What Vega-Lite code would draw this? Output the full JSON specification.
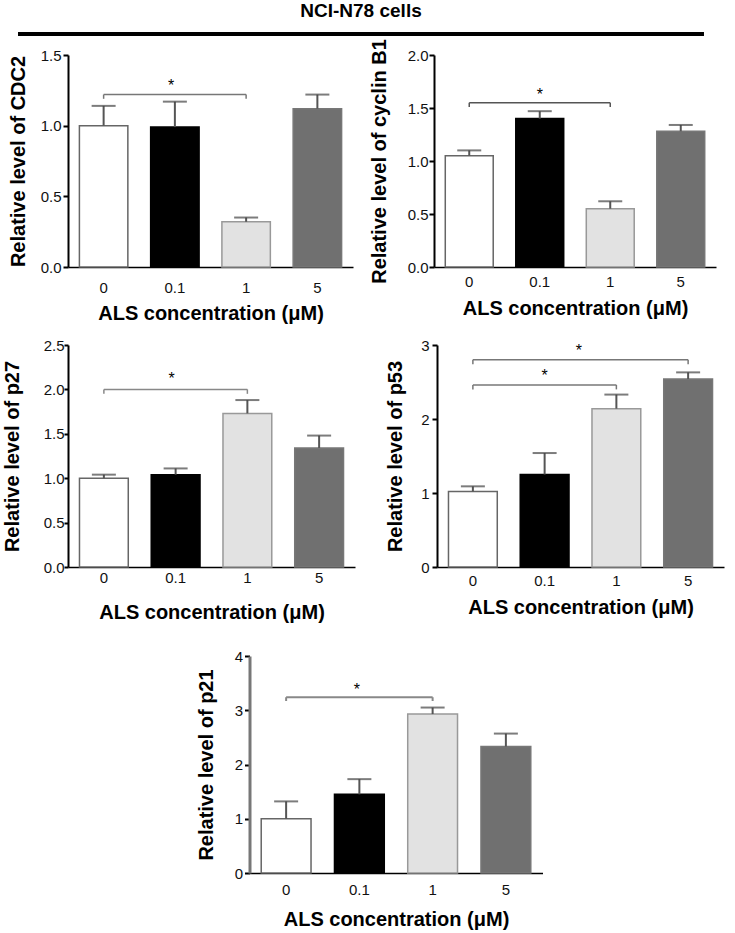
{
  "$schema": "https://vega.github.io/schema/vega-lite/v6.json",
  "background": "white",
  "padding": {"left": 2, "top": 2, "right": 5, "bottom": 5},
  "config": {
    "font": "Liberation Sans",
    "view": {"stroke": null},
    "style": {"guide-label": {"fontSize": 15, "font": "Liberation Sans", "fill": "#111111"}, "guide-title": {"fontSize": 20, "font": "Liberation Sans", "fontWeight": "bold", "fill": "#000000"}},
    "axis": {"labelFont": "Liberation Sans", "labelFontSize": 15, "labelColor": "#111111", "titleFont": "Liberation Sans", "titleFontSize": 20, "titleFontWeight": "bold", "titleColor": "#000000", "domainColor": "#000000", "tickColor": "#000000", "grid": false},
    "axisX": {"domainWidth": 1.5, "ticks": false, "labelAngle": 0, "labelFontSize": 15},
    "axisY": {"domainWidth": 2, "tickWidth": 2, "tickSize": 5, "labelFontSize": 15}
  },
  "datasets": {
    "cdc2": [{"conc": "0", "value": 1.0, "upper": 1.14}, {"conc": "0.1", "value": 0.99, "upper": 1.17}, {"conc": "1", "value": 0.32, "upper": 0.35}, {"conc": "5", "value": 1.12, "upper": 1.22}],
    "cyclin": [{"conc": "0", "value": 1.05, "upper": 1.10}, {"conc": "0.1", "value": 1.40, "upper": 1.47}, {"conc": "1", "value": 0.55, "upper": 0.62}, {"conc": "5", "value": 1.28, "upper": 1.34}],
    "p27": [{"conc": "0", "value": 1.0, "upper": 1.04}, {"conc": "0.1", "value": 1.04, "upper": 1.11}, {"conc": "1", "value": 1.73, "upper": 1.88}, {"conc": "5", "value": 1.34, "upper": 1.48}],
    "p53": [{"conc": "0", "value": 1.02, "upper": 1.09}, {"conc": "0.1", "value": 1.25, "upper": 1.54}, {"conc": "1", "value": 2.14, "upper": 2.33}, {"conc": "5", "value": 2.54, "upper": 2.63}],
    "p21": [{"conc": "0", "value": 1.0, "upper": 1.32}, {"conc": "0.1", "value": 1.45, "upper": 1.73}, {"conc": "1", "value": 2.93, "upper": 3.05}, {"conc": "5", "value": 2.33, "upper": 2.57}],
    "br_cdc2": [{"from": "0", "to": "1", "y": 1.22, "yend": 1.19, "ystar": 1.28}],
    "br_cyclin": [{"from": "0", "to": "1", "y": 1.55, "yend": 1.51, "ystar": 1.62}],
    "br_p27": [{"from": "0", "to": "1", "y": 2.0, "yend": 1.95, "ystar": 2.12}],
    "br_p53": [{"from": "0", "to": "1", "y": 2.46, "yend": 2.40, "ystar": 2.58}, {"from": "0", "to": "5", "y": 2.80, "yend": 2.74, "ystar": 2.92}],
    "br_p21": [{"from": "0", "to": "1", "y": 3.24, "yend": 3.17, "ystar": 3.37}]
  },
  "columns": 1,
  "spacing": 2,
  "concat": [
    {
      "width": 586,
      "height": 4,
      "data": {"values": [{}]},
      "title": {"text": "NCI-N78 cells", "fontSize": 19, "font": "Liberation Sans", "fontWeight": "bold", "color": "#000000", "anchor": "middle", "frame": "group", "offset": 11},
      "mark": {"type": "rect", "color": "#000000", "clip": false},
      "encoding": {
        "x": {"datum": -0.0853, "type": "quantitative", "scale": {"domain": [0, 1]}, "axis": null},
        "x2": {"datum": 1.0853},
        "y": {"datum": 0, "type": "quantitative", "scale": {"domain": [0, 1]}, "axis": null},
        "y2": {"datum": 1}
      }
    },
    {
      "center": false,
      "spacing": 15,
      "vconcat": [
        {
          "spacing": 16,
          "hconcat": [
            {
              "width": 285, "height": 212,
              "layer": [
                {"data": {"name": "cdc2"}, "mark": {"type": "bar", "strokeWidth": 1.5},
                 "encoding": {
                   "x": {"field": "conc", "type": "nominal", "scale": {"domain": ["0", "0.1", "1", "5"], "paddingInner": 0.32, "paddingOuter": 0.16}, "axis": {"title": "ALS concentration (μM)", "labelFontSize": 15, "labelPadding": 13, "titlePadding": 8}},
                   "y": {"field": "value", "type": "quantitative", "scale": {"domain": [0, 1.5], "nice": false}, "axis": {"title": "Relative level of CDC2", "values": [0, 0.5, 1, 1.5], "format": ".1f", "labelFontSize": 15, "labelPadding": 2, "titlePadding": 12}},
                   "fill": {"field": "conc", "type": "nominal", "scale": {"domain": ["0", "0.1", "1", "5"], "range": ["#ffffff", "#000000", "#e2e2e2", "#707070"]}, "legend": null},
                   "stroke": {"field": "conc", "type": "nominal", "scale": {"domain": ["0", "0.1", "1", "5"], "range": ["#666666", "#000000", "#999999", "#777777"]}, "legend": null}
                 }},
                {"data": {"name": "cdc2"}, "mark": {"type": "rule", "color": "#555555", "strokeWidth": 2},
                 "encoding": {"x": {"field": "conc", "type": "nominal"}, "y": {"field": "value", "type": "quantitative"}, "y2": {"field": "upper"}}},
                {"data": {"name": "cdc2"}, "mark": {"type": "tick", "color": "#444444", "thickness": 2, "size": 24, "orient": "horizontal"},
                 "encoding": {"x": {"field": "conc", "type": "nominal"}, "y": {"field": "upper", "type": "quantitative"}}},
                {"data": {"name": "br_cdc2"}, "mark": {"type": "rule", "color": "#777777", "strokeWidth": 1.5},
                 "encoding": {"x": {"field": "from", "type": "nominal"}, "x2": {"field": "to"}, "y": {"field": "y", "type": "quantitative"}}},
                {"data": {"name": "br_cdc2"}, "mark": {"type": "rule", "color": "#777777", "strokeWidth": 1.5},
                 "encoding": {"x": {"field": "from", "type": "nominal"}, "y": {"field": "y", "type": "quantitative"}, "y2": {"field": "yend"}}},
                {"data": {"name": "br_cdc2"}, "mark": {"type": "rule", "color": "#777777", "strokeWidth": 1.5},
                 "encoding": {"x": {"field": "to", "type": "nominal"}, "y": {"field": "y", "type": "quantitative"}, "y2": {"field": "yend"}}},
                {"data": {"name": "br_cdc2"}, "mark": {"type": "text", "text": "*", "fontSize": 16, "baseline": "middle", "color": "#000000"},
                 "encoding": {"x": {"datum": "0.1", "type": "nominal", "bandPosition": 0.42}, "y": {"field": "ystar", "type": "quantitative"}}}
              ]
            },
            {
              "width": 282, "height": 212,
              "layer": [
                {"data": {"name": "cyclin"}, "mark": {"type": "bar", "strokeWidth": 1.5},
                 "encoding": {
                   "x": {"field": "conc", "type": "nominal", "scale": {"domain": ["0", "0.1", "1", "5"], "paddingInner": 0.32, "paddingOuter": 0.16}, "axis": {"title": "ALS concentration (μM)", "labelFontSize": 15, "labelPadding": 7, "titlePadding": 9}},
                   "y": {"field": "value", "type": "quantitative", "scale": {"domain": [0, 2], "nice": false}, "axis": {"title": "Relative level of cyclin B1", "values": [0, 0.5, 1, 1.5, 2], "format": ".1f", "labelFontSize": 15, "labelPadding": 1, "titlePadding": 18}},
                   "fill": {"field": "conc", "type": "nominal", "scale": {"domain": ["0", "0.1", "1", "5"], "range": ["#ffffff", "#000000", "#e2e2e2", "#707070"]}, "legend": null},
                   "stroke": {"field": "conc", "type": "nominal", "scale": {"domain": ["0", "0.1", "1", "5"], "range": ["#666666", "#000000", "#999999", "#777777"]}, "legend": null}
                 }},
                {"data": {"name": "cyclin"}, "mark": {"type": "rule", "color": "#555555", "strokeWidth": 2},
                 "encoding": {"x": {"field": "conc", "type": "nominal"}, "y": {"field": "value", "type": "quantitative"}, "y2": {"field": "upper"}}},
                {"data": {"name": "cyclin"}, "mark": {"type": "tick", "color": "#444444", "thickness": 2, "size": 24, "orient": "horizontal"},
                 "encoding": {"x": {"field": "conc", "type": "nominal"}, "y": {"field": "upper", "type": "quantitative"}}},
                {"data": {"name": "br_cyclin"}, "mark": {"type": "rule", "color": "#555555", "strokeWidth": 1.5},
                 "encoding": {"x": {"field": "from", "type": "nominal"}, "x2": {"field": "to"}, "y": {"field": "y", "type": "quantitative"}}},
                {"data": {"name": "br_cyclin"}, "mark": {"type": "rule", "color": "#555555", "strokeWidth": 1.5},
                 "encoding": {"x": {"field": "from", "type": "nominal"}, "y": {"field": "y", "type": "quantitative"}, "y2": {"field": "yend"}}},
                {"data": {"name": "br_cyclin"}, "mark": {"type": "rule", "color": "#555555", "strokeWidth": 1.5},
                 "encoding": {"x": {"field": "to", "type": "nominal"}, "y": {"field": "y", "type": "quantitative"}, "y2": {"field": "yend"}}},
                {"data": {"name": "br_cyclin"}, "mark": {"type": "text", "text": "*", "fontSize": 16, "baseline": "middle", "color": "#000000"},
                 "encoding": {"x": {"datum": "0.1", "type": "nominal", "bandPosition": 0.5}, "y": {"field": "ystar", "type": "quantitative"}}}
              ]
            }
          ]
        },
        {
          "center": true,
          "spacing": 27,
          "vconcat": [
            {
              "spacing": 30,
              "hconcat": [
                {
                  "width": 287, "height": 222,
                  "layer": [
                    {"data": {"name": "p27"}, "mark": {"type": "bar", "strokeWidth": 1.5},
                     "encoding": {
                       "x": {"field": "conc", "type": "nominal", "scale": {"domain": ["0", "0.1", "1", "5"], "paddingInner": 0.32, "paddingOuter": 0.16}, "axis": {"title": "ALS concentration (μM)", "labelFontSize": 15, "labelPadding": 3, "titlePadding": 17}},
                       "y": {"field": "value", "type": "quantitative", "scale": {"domain": [0, 2.5], "nice": false}, "axis": {"title": "Relative level of p27", "values": [0, 0.5, 1, 1.5, 2, 2.5], "format": ".1f", "labelFontSize": 15, "tickSize": 4, "labelPadding": 0, "titlePadding": 21}},
                       "fill": {"field": "conc", "type": "nominal", "scale": {"domain": ["0", "0.1", "1", "5"], "range": ["#ffffff", "#000000", "#e2e2e2", "#707070"]}, "legend": null},
                       "stroke": {"field": "conc", "type": "nominal", "scale": {"domain": ["0", "0.1", "1", "5"], "range": ["#666666", "#000000", "#999999", "#777777"]}, "legend": null}
                     }},
                    {"data": {"name": "p27"}, "mark": {"type": "rule", "color": "#555555", "strokeWidth": 2},
                     "encoding": {"x": {"field": "conc", "type": "nominal"}, "y": {"field": "value", "type": "quantitative"}, "y2": {"field": "upper"}}},
                    {"data": {"name": "p27"}, "mark": {"type": "tick", "color": "#444444", "thickness": 2, "size": 24, "orient": "horizontal"},
                     "encoding": {"x": {"field": "conc", "type": "nominal"}, "y": {"field": "upper", "type": "quantitative"}}},
                    {"data": {"name": "br_p27"}, "mark": {"type": "rule", "color": "#888888", "strokeWidth": 1.5},
                     "encoding": {"x": {"field": "from", "type": "nominal"}, "x2": {"field": "to"}, "y": {"field": "y", "type": "quantitative"}}},
                    {"data": {"name": "br_p27"}, "mark": {"type": "rule", "color": "#888888", "strokeWidth": 1.5},
                     "encoding": {"x": {"field": "from", "type": "nominal"}, "y": {"field": "y", "type": "quantitative"}, "y2": {"field": "yend"}}},
                    {"data": {"name": "br_p27"}, "mark": {"type": "rule", "color": "#888888", "strokeWidth": 1.5},
                     "encoding": {"x": {"field": "to", "type": "nominal"}, "y": {"field": "y", "type": "quantitative"}, "y2": {"field": "yend"}}},
                    {"data": {"name": "br_p27"}, "mark": {"type": "text", "text": "*", "fontSize": 16, "baseline": "middle", "color": "#000000"},
                     "encoding": {"x": {"datum": "0.1", "type": "nominal", "bandPosition": 0.42}, "y": {"field": "ystar", "type": "quantitative"}}}
                  ]
                },
                {
                  "width": 287, "height": 222,
                  "layer": [
                    {"data": {"name": "p53"}, "mark": {"type": "bar", "strokeWidth": 1.5},
                     "encoding": {
                       "x": {"field": "conc", "type": "nominal", "scale": {"domain": ["0", "0.1", "1", "5"], "paddingInner": 0.32, "paddingOuter": 0.16}, "axis": {"title": "ALS concentration (μM)", "labelFontSize": 15, "labelPadding": 6, "titlePadding": 9}},
                       "y": {"field": "value", "type": "quantitative", "scale": {"domain": [0, 3], "nice": false}, "axis": {"title": "Relative level of p53", "values": [0, 1, 2, 3], "format": "d", "labelFontSize": 15, "labelPadding": 3, "titlePadding": 15}},
                       "fill": {"field": "conc", "type": "nominal", "scale": {"domain": ["0", "0.1", "1", "5"], "range": ["#ffffff", "#000000", "#e2e2e2", "#707070"]}, "legend": null},
                       "stroke": {"field": "conc", "type": "nominal", "scale": {"domain": ["0", "0.1", "1", "5"], "range": ["#666666", "#000000", "#999999", "#777777"]}, "legend": null}
                     }},
                    {"data": {"name": "p53"}, "mark": {"type": "rule", "color": "#555555", "strokeWidth": 2},
                     "encoding": {"x": {"field": "conc", "type": "nominal"}, "y": {"field": "value", "type": "quantitative"}, "y2": {"field": "upper"}}},
                    {"data": {"name": "p53"}, "mark": {"type": "tick", "color": "#444444", "thickness": 2, "size": 24, "orient": "horizontal"},
                     "encoding": {"x": {"field": "conc", "type": "nominal"}, "y": {"field": "upper", "type": "quantitative"}}},
                    {"data": {"name": "br_p53"}, "mark": {"type": "rule", "color": "#777777", "strokeWidth": 1.5},
                     "encoding": {"x": {"field": "from", "type": "nominal"}, "x2": {"field": "to"}, "y": {"field": "y", "type": "quantitative"}}},
                    {"data": {"name": "br_p53"}, "mark": {"type": "rule", "color": "#777777", "strokeWidth": 1.5},
                     "encoding": {"x": {"field": "from", "type": "nominal"}, "y": {"field": "y", "type": "quantitative"}, "y2": {"field": "yend"}}},
                    {"data": {"name": "br_p53"}, "mark": {"type": "rule", "color": "#777777", "strokeWidth": 1.5},
                     "encoding": {"x": {"field": "to", "type": "nominal"}, "y": {"field": "y", "type": "quantitative"}, "y2": {"field": "yend"}}},
                    {"data": {"name": "br_p53"}, "transform": [{"filter": "datum.to === '1'"}], "mark": {"type": "text", "text": "*", "fontSize": 16, "baseline": "middle", "color": "#000000"},
                     "encoding": {"x": {"datum": "0.1", "type": "nominal", "bandPosition": 0.5}, "y": {"field": "ystar", "type": "quantitative"}}},
                    {"data": {"name": "br_p53"}, "transform": [{"filter": "datum.to === '5'"}], "mark": {"type": "text", "text": "*", "fontSize": 16, "baseline": "middle", "color": "#000000"},
                     "encoding": {"x": {"datum": "0.1", "type": "nominal", "bandPosition": 1.2}, "y": {"field": "ystar", "type": "quantitative"}}}
                  ]
                }
              ]
            },
            {
              "width": 293, "height": 217,
              "layer": [
                {"data": {"name": "p21"}, "mark": {"type": "bar", "strokeWidth": 1.5},
                 "encoding": {
                   "x": {"field": "conc", "type": "nominal", "scale": {"domain": ["0", "0.1", "1", "5"], "paddingInner": 0.32, "paddingOuter": 0.16}, "axis": {"title": "ALS concentration (μM)", "labelFontSize": 15, "labelPadding": 9, "titlePadding": 12}},
                   "y": {"field": "value", "type": "quantitative", "scale": {"domain": [0, 4], "nice": false}, "axis": {"title": "Relative level of p21", "values": [0, 1, 2, 3, 4], "format": "d", "labelFontSize": 15, "labelPadding": 2, "titlePadding": 18, "domainColor": "#777777", "domainWidth": 3}},
                   "fill": {"field": "conc", "type": "nominal", "scale": {"domain": ["0", "0.1", "1", "5"], "range": ["#ffffff", "#000000", "#e2e2e2", "#707070"]}, "legend": null},
                   "stroke": {"field": "conc", "type": "nominal", "scale": {"domain": ["0", "0.1", "1", "5"], "range": ["#666666", "#000000", "#999999", "#777777"]}, "legend": null}
                 }},
                {"data": {"name": "p21"}, "mark": {"type": "rule", "color": "#555555", "strokeWidth": 2},
                 "encoding": {"x": {"field": "conc", "type": "nominal"}, "y": {"field": "value", "type": "quantitative"}, "y2": {"field": "upper"}}},
                {"data": {"name": "p21"}, "mark": {"type": "tick", "color": "#444444", "thickness": 2, "size": 24, "orient": "horizontal"},
                 "encoding": {"x": {"field": "conc", "type": "nominal"}, "y": {"field": "upper", "type": "quantitative"}}},
                {"data": {"name": "br_p21"}, "mark": {"type": "rule", "color": "#888888", "strokeWidth": 2},
                 "encoding": {"x": {"field": "from", "type": "nominal"}, "x2": {"field": "to"}, "y": {"field": "y", "type": "quantitative"}}},
                {"data": {"name": "br_p21"}, "mark": {"type": "rule", "color": "#888888", "strokeWidth": 2},
                 "encoding": {"x": {"field": "from", "type": "nominal"}, "y": {"field": "y", "type": "quantitative"}, "y2": {"field": "yend"}}},
                {"data": {"name": "br_p21"}, "mark": {"type": "rule", "color": "#888888", "strokeWidth": 2},
                 "encoding": {"x": {"field": "to", "type": "nominal"}, "y": {"field": "y", "type": "quantitative"}, "y2": {"field": "yend"}}},
                {"data": {"name": "br_p21"}, "mark": {"type": "text", "text": "*", "fontSize": 16, "baseline": "middle", "color": "#000000"},
                 "encoding": {"x": {"datum": "0.1", "type": "nominal", "bandPosition": 0.45}, "y": {"field": "ystar", "type": "quantitative"}}}
              ]
            }
          ]
        }
      ]
    }
  ]
}
